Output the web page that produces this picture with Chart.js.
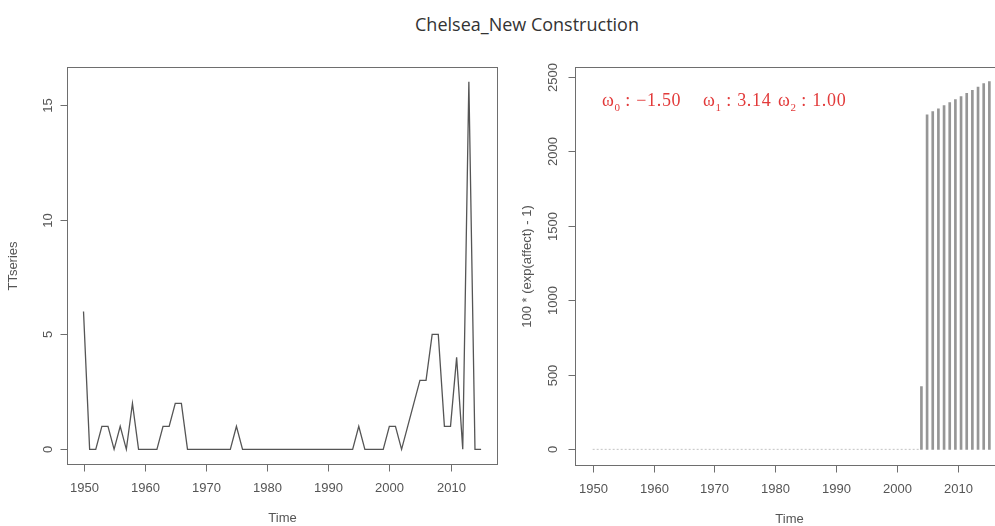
<!DOCTYPE html>
<html><head><meta charset="utf-8">
<script src="https://cdn.jsdelivr.net/npm/chart.js@4.4.1/dist/chart.umd.min.js"></script>
<style>
html,body{margin:0;padding:0;width:995px;height:526px;overflow:hidden;background:#fff}
body{position:relative}
#title{position:absolute;left:0;width:1054px;top:12px;text-align:center;font-family:"Open Sans",sans-serif;font-size:18px;color:#333}
#w1{position:absolute;left:0;top:0;width:510px;height:526px}
#w2{position:absolute;left:510px;top:0;width:600px;height:526px}
.om{position:absolute;top:90px;font-family:"Liberation Serif",serif;font-size:18px;color:#e23a3a;white-space:pre;letter-spacing:0.7px}
.om sub{font-size:11px;letter-spacing:0}
</style></head>
<body>
<div id="title">Chelsea_New Construction</div>
<div id="w1"><canvas id="c1" width="510" height="526"></canvas></div>
<div id="w2"><canvas id="c2" width="600" height="526"></canvas></div>
<div class="om" style="left:602px">ω<sub>0</sub> : −1.50</div>
<div class="om" style="left:703px">ω<sub>1</sub> : 3.14</div>
<div class="om" style="left:778px">ω<sub>2</sub> : 1.00</div>
<script>
// ---- data ----
const years = [1950,1951,1952,1953,1954,1955,1956,1957,1958,1959,
               1960,1961,1962,1963,1964,1965,1966,1967,1968,1969,
               1970,1971,1972,1973,1974,1975,1976,1977,1978,1979,
               1980,1981,1982,1983,1984,1985,1986,1987,1988,1989,
               1990,1991,1992,1993,1994,1995,1996,1997,1998,1999,
               2000,2001,2002,2003,2004,2005,2006,2007,2008,2009,
               2010,2011,2012,2013,2014,2015];
const ttSeries = [6,0,0,1,1,0,1,0,2,0,
                  0,0,0,1,1,2,2,0,0,0,
                  0,0,0,0,0,1,0,0,0,0,
                  0,0,0,0,0,0,0,0,0,0,
                  0,0,0,0,0,1,0,0,0,0,
                  1,1,0,1,2,3,3,5,5,1,
                  1,4,0,16,0,0];
const effectTimes = [2004.0,2004.93,2005.86,2006.79,2007.72,2008.65,2009.58,2010.51,2011.44,2012.37,2013.3,2014.23,2015.16];
const effectValues = [421,2244,2266,2284,2307,2327,2347,2367,2388,2408,2431,2453,2468];
const zeroSpan = [1950,2004];
const xTicks = [1950,1960,1970,1980,1990,2000,2010];
const leftYTicks = [0,5,10,15];
const rightYTicks = [0,500,1000,1500,2000,2500];
const leftXTitle = 'Time', leftYTitle = 'TTseries';
const rightXTitle = 'Time', rightYTitle = '100 * (exp(affect) - 1)';

const AX = '#6e6e6e', TX = '#555';
function rAxes(yTicks, xTitle, yTitle, yLabelOff, yTitleOff){
  return {id:'rAxes', afterDraw(chart){
    const {ctx, chartArea:a, scales:{x,y}} = chart;
    ctx.save();
    ctx.strokeStyle = AX; ctx.lineWidth = 1;
    const L=Math.round(a.left)+0.5, R=Math.round(a.right)+0.5, T=Math.round(a.top)+0.5, B=Math.round(a.bottom)+0.5;
    ctx.strokeRect(L,T,R-L,B-T);
    ctx.fillStyle = TX;
    ctx.font = '13px "Liberation Sans", Arial, sans-serif';
    ctx.textAlign='center'; ctx.textBaseline='middle';
    xTicks.forEach(v=>{
      const px = Math.round(x.getPixelForValue(v))+0.5;
      ctx.beginPath(); ctx.moveTo(px,B); ctx.lineTo(px,B+7); ctx.stroke();
      ctx.fillText(String(v), px, B+24);
    });
    yTicks.forEach(v=>{
      const py = Math.round(y.getPixelForValue(v))+0.5;
      ctx.beginPath(); ctx.moveTo(L-7,py); ctx.lineTo(L,py); ctx.stroke();
      ctx.save(); ctx.translate(L-yLabelOff, py); ctx.rotate(-Math.PI/2);
      ctx.fillText(String(v),0,0); ctx.restore();
    });
    ctx.fillText(xTitle,(L+R)/2, B+54);
    ctx.save(); ctx.translate(L-yTitleOff,(T+B)/2); ctx.rotate(-Math.PI/2);
    ctx.fillText(yTitle,0,0); ctx.restore();
    ctx.restore();
  }};
}

new Chart(document.getElementById('c1'),{
  type:'line',
  data:{labels:years, datasets:[{data:years.map((t,i)=>({x:t,y:ttSeries[i]})),
    borderColor:'#555', borderWidth:1.3, pointRadius:0, tension:0, fill:false}]},
  options:{responsive:false, animation:false, events:[],
    layout:{padding:{left:67,top:67,right:13,bottom:62}},
    plugins:{legend:{display:false},tooltip:{enabled:false}},
    scales:{x:{type:'linear',min:1947.3,max:2017.6,display:false},
            y:{type:'linear',min:-0.64,max:16.64,display:false}}},
  plugins:[rAxes(leftYTicks,leftXTitle,leftYTitle,19,54)]
});

new Chart(document.getElementById('c2'),{
  type:'bar',
  data:{datasets:[
    {type:'bar', data:effectTimes.map((t,i)=>({x:t,y:effectValues[i]})),
     backgroundColor:'#969696', barThickness:2, base:0, grouped:false},
    {type:'line', data:zeroSpan.map(t=>({x:t,y:0})), borderColor:'#c4c4c4',
     borderWidth:1, borderDash:[2,2], pointRadius:0}
  ]},
  options:{responsive:false, animation:false, events:[],
    layout:{padding:{left:65,top:67,right:107,bottom:61}},
    plugins:{legend:{display:false},tooltip:{enabled:false}},
    scales:{x:{type:'linear',min:1947.1,max:2017.4,display:false,offset:false},
            y:{type:'linear',min:-105,max:2565,display:false}}},
  plugins:[rAxes(rightYTicks,rightXTitle,rightYTitle,22,48)]
});
</script>
</body></html>
